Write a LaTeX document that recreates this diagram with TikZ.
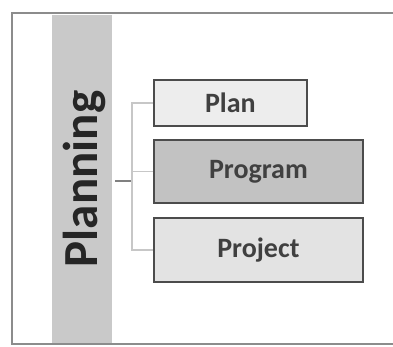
\documentclass[tikz,border=0pt]{standalone}
\usepackage{fontspec}
\setmainfont{Carlito}
\begin{document}
\begin{tikzpicture}[x=1pt,y=-1pt,
  itembox/.style={draw=black!70,line width=1.8pt,anchor=north west,inner sep=0pt,
    font=\fontsize{28}{32}\selectfont\bfseries,text=black!75},
  link/.style={draw=black!22,line width=1.6pt},
]
\useasboundingbox (0,0) rectangle (393,347);
\fill[white] (0,0) rectangle (393,347);
\draw[black!45,line width=1.5pt] (400,13) -- (12,13) -- (12,344) -- (400,344);
\fill[black!21] (52,15) rectangle (112,343);
\node[rotate=90,font=\fontsize{49}{52}\selectfont\bfseries,text=black!85] (root) at (84,179) {Planning};
\node[itembox,fill=black!7,minimum width=153pt,minimum height=46pt] (plan) at (153,79) {Plan};
\node[itembox,fill=black!24,minimum width=209pt,minimum height=63pt] (prog) at (153,139) {Program};
\node[itembox,fill=black!11,minimum width=209pt,minimum height=64pt] (proj) at (153,217) {Project};
\coordinate (rs) at (115,181);
\coordinate (jn) at (132,181);
\draw[black!50,line width=1.6pt] (rs) -- (jn);
\draw[link] (jn) |- (plan.west);
\draw[link] (jn) |- (proj.west);
\draw[link] (jn |- prog.west) -- (prog.west);
\end{tikzpicture}
\end{document}
